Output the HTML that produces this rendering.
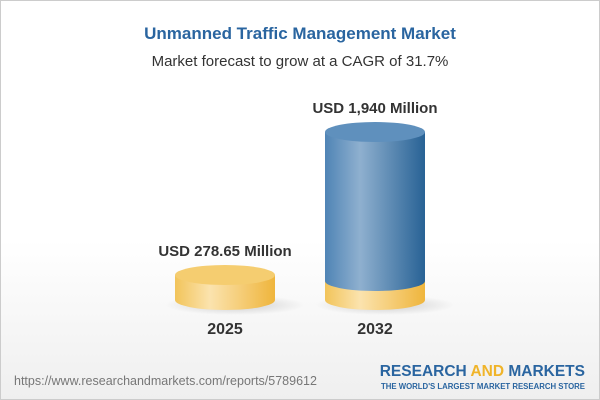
<!DOCTYPE html>
<html><head><style>
body{margin:0}
.c{position:relative;width:598px;height:398px;border:1px solid #ccc;background:linear-gradient(#fff 0%,#fff 60%,#efefef 100%);font-family:"Liberation Sans",Arial,sans-serif;overflow:hidden}
.t{position:absolute;width:100%;text-align:center}
</style></head><body><div class="c">
<div class="t" style="top:23px;font-size:17px;font-weight:bold;color:#2a65a0">Unmanned Traffic Management Market</div>
<div class="t" style="top:52px;font-size:15px;color:#333">Market forecast to grow at a CAGR of 31.7%</div>
<svg width="600" height="400" style="position:absolute;left:-1px;top:-1px">
<defs>
<linearGradient id="y" x1="0" x2="1"><stop offset="0" stop-color="#f2c45a"/><stop offset=".35" stop-color="#fbe3ae"/><stop offset="1" stop-color="#efb53c"/></linearGradient>
<linearGradient id="b" x1="0" x2="1"><stop offset="0" stop-color="#4f84b5"/><stop offset=".35" stop-color="#8fb0cf"/><stop offset="1" stop-color="#286295"/></linearGradient>
<radialGradient id="s"><stop offset="0" stop-color="#000" stop-opacity=".18"/><stop offset="1" stop-color="#000" stop-opacity="0"/></radialGradient>
</defs>
<ellipse cx="235" cy="305" rx="70" ry="10" fill="url(#s)"/>
<ellipse cx="385" cy="305" rx="70" ry="10" fill="url(#s)"/>
<path d="M175 275 V300 A50 10 0 0 0 275 300 V275 Z" fill="url(#y)"/>
<ellipse cx="225" cy="275" rx="50" ry="10" fill="#f5cd70"/>
<path d="M325 281 V300 A50 10 0 0 0 425 300 V281 Z" fill="url(#y)"/>
<path d="M325 132 V281 A50 10 0 0 0 425 281 V132 Z" fill="url(#b)"/>
<ellipse cx="375" cy="132" rx="50" ry="10" fill="#5f90bd"/>
<g font-family="Liberation Sans,Arial,sans-serif" font-weight="bold" fill="#333" text-anchor="middle">
<text x="375" y="113" font-size="15">USD 1,940 Million</text>
<text x="225" y="256" font-size="15">USD 278.65 Million</text>
<text x="225" y="334" font-size="16">2025</text>
<text x="375" y="334" font-size="16">2032</text>
</g>
<text x="14" y="385" font-family="Liberation Sans,Arial,sans-serif" font-size="12.5" fill="#777">https://www.researchandmarkets.com/reports/5789612</text>
<text x="585" y="376" text-anchor="end" font-family="Liberation Sans,Arial,sans-serif" font-weight="bold" font-size="15.5" fill="#2a65a0">RESEARCH <tspan fill="#f0b429">AND</tspan> MARKETS</text>
<text x="585" y="389" text-anchor="end" font-family="Liberation Sans,Arial,sans-serif" font-weight="bold" font-size="7.8" fill="#2a65a0">THE WORLD'S LARGEST MARKET RESEARCH STORE</text>
</svg>
</div></body></html>
